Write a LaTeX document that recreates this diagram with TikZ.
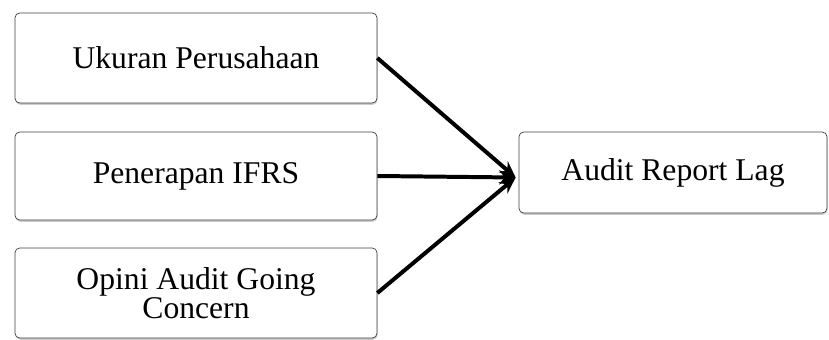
\documentclass[tikz,border=0pt]{standalone}
\usepackage{fontspec}
\setmainfont{Liberation Serif}
\usetikzlibrary{
  arrows.meta,
  positioning,
  calc,
  shadows,
}

\begin{document}
\begin{tikzpicture}[
  x=0.03cm, y=-0.03cm,
  every node/.style={align=center},
  varbox/.style={draw=black!75, line width=0.6pt, fill=white, rounded corners=4pt,
    drop shadow={shadow xshift=0.5pt, shadow yshift=-1.5pt, fill=black!40},
    font=\fontsize{27}{23}\selectfont, inner sep=0pt},
  link/.style={black, line width=3.4pt, -{Stealth[length=14pt, width=12pt]}},
]

\useasboundingbox (0,0) rectangle (829,340);

\node[varbox, minimum width=362*0.03cm, minimum height=90*0.03cm] (ukuran) at (196,58) {Ukuran Perusahaan};
\node[varbox, minimum width=362*0.03cm, minimum height=88*0.03cm] (ifrs) at (196,176) {Penerapan IFRS};
\node[varbox, minimum width=362*0.03cm, minimum height=90*0.03cm] (opini) at (196,293) {Opini Audit Going\\Concern};
\node[varbox, minimum width=308*0.03cm, minimum height=81*0.03cm] (lag) at (673,172.5) {Audit Report Lag};

\coordinate (join) at ($(lag.west)+(-3,5)$);

\draw[link] (ukuran.east) -- (join);
\draw[link] (ifrs.east) -- (join);
\draw[link] (opini.east) -- (join);

\end{tikzpicture}
\end{document}
